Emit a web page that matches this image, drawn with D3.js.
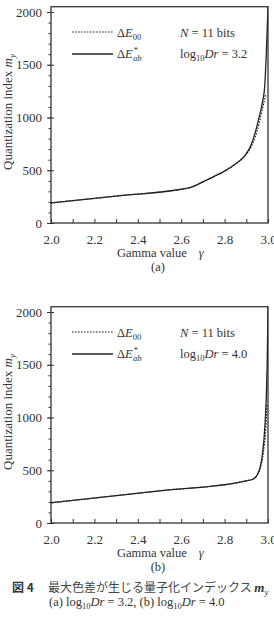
<!DOCTYPE html>
<html>
<head>
<meta charset="utf-8">
<script src="https://cdn.jsdelivr.net/npm/d3@7"></script>
<style>
  body { margin: 0; background: #fff; }
  svg { display: block; }
  text { font-family: "Liberation Serif", "DejaVu Serif", serif; fill: #333; }
  .axis path, .axis line { stroke: #333; }
</style>
</head>
<body>
<div id="chart"></div>
<script>
// values
var gammaTicks = [2.0, 2.1, 2.2, 2.3, 2.4, 2.5, 2.6, 2.7, 2.8, 2.9, 3.0];
var yMajor = [0, 500, 1000, 1500, 2000];

// (a) log10Dr = 3.2
var gammaA_ab = [2.0, 2.3, 2.6, 2.64, 2.7, 2.75, 2.8, 2.85, 2.89, 2.92, 2.94, 2.96, 2.975, 2.985, 2.993, 3.0];
var valueA_ab = [190, 255, 320, 335, 390, 440, 492, 560, 630, 730, 850, 1010, 1150, 1300, 1650, 2050];
var gammaA_00 = [2.0, 2.3, 2.6, 2.64, 2.7, 2.75, 2.8, 2.85, 2.89, 2.92, 2.94, 2.96, 2.975, 2.99];
var valueA_00 = [190, 255, 320, 335, 390, 440, 492, 560, 630, 710, 810, 950, 1090, 1220];

// (b) log10Dr = 4.0
var gammaB_ab = [2.0, 2.5, 2.9, 2.93, 2.945, 2.955, 2.965, 2.975, 2.982, 2.988, 2.993, 2.997, 3.0];
var valueB_ab = [192, 305, 400, 415, 440, 475, 540, 660, 810, 1000, 1250, 1600, 2050];
var gammaB_00 = [2.0, 2.5, 2.9, 2.93, 2.945, 2.955, 2.965, 2.975, 2.983, 2.99, 2.995];
var valueB_00 = [192, 305, 400, 415, 440, 475, 525, 620, 740, 900, 1130];

var serif = "'Liberation Serif', 'DejaVu Serif', serif";
var width = 274, height = 624;
var svg = d3.select("#chart").append("svg")
  .attr("width", width)
  .attr("height", height)
  .attr("font-family", serif);

function zip(g, v) {
  return g.map(function(d, i) { return {g: d, v: v[i]}; });
}

function panel(oy, id, dr, label, ab, e00) {
  var x = d3.scaleLinear().domain([2, 3]).range([51, 268]);
  var y = d3.scaleLinear().domain([0, 2000]).range([oy + 223, oy + 12]);
  var g = svg.append("g");

  g.append("clipPath").attr("id", "clip" + id)
    .append("rect")
    .attr("x", x(2)).attr("y", y(2050))
    .attr("width", x(3) - x(2)).attr("height", y(0) - y(2050));

  // minor y ticks
  g.append("g").attr("class", "axis")
    .attr("transform", "translate(" + x(2) + ",0)")
    .call(d3.axisLeft(y).tickValues(d3.range(0, 2001, 100)).tickSize(2.5).tickFormat(""))
    .call(function(s) { s.select(".domain").remove(); });

  // major y ticks
  var ya = g.append("g").attr("class", "axis")
    .attr("transform", "translate(" + x(2) + ",0)")
    .call(d3.axisLeft(y).tickValues(yMajor).tickSizeInner(4).tickSizeOuter(0).tickPadding(5)
      .tickFormat(d3.format("d")));
  ya.attr("font-family", serif);
  ya.selectAll(".tick line").attr("x2", 3).attr("x1", -4);
  ya.selectAll("text").style("font-size", "13px").attr("fill", "#333");
  ya.select(".domain").remove();

  // x axis, ticks pointing inward
  var xa = g.append("g").attr("class", "axis")
    .attr("transform", "translate(0," + y(0) + ")")
    .call(d3.axisBottom(x).tickValues(gammaTicks).tickSizeInner(-4).tickSizeOuter(0).tickPadding(12)
      .tickFormat(function(d, i) { return i % 2 === 0 ? d3.format(".1f")(d) : ""; }));
  xa.attr("font-family", serif);
  xa.selectAll("text").style("font-size", "13px").attr("fill", "#333");
  xa.select(".domain").remove();

  // frame
  g.append("rect")
    .attr("x", x(2)).attr("y", y(2050))
    .attr("width", x(3) - x(2)).attr("height", y(0) - y(2050))
    .attr("fill", "none").attr("stroke", "#333").attr("stroke-width", 1.3);

  var line = d3.line()
    .x(function(d) { return x(d.g); })
    .y(function(d) { return y(d.v); })
    .curve(d3.curveMonotoneX);

  g.append("path").datum(e00)
    .attr("clip-path", "url(#clip" + id + ")")
    .attr("d", line).attr("fill", "none")
    .attr("stroke", "#222").attr("stroke-width", 1.2).attr("stroke-dasharray", "1.6,1.4");
  g.append("path").datum(ab)
    .attr("clip-path", "url(#clip" + id + ")")
    .attr("d", line).attr("fill", "none")
    .attr("stroke", "#222").attr("stroke-width", 1.3);

  // legend
  g.append("line").attr("x1", 72).attr("x2", 113).attr("y1", oy + 32).attr("y2", oy + 32)
    .attr("stroke", "#222").attr("stroke-width", 1.2).attr("stroke-dasharray", "1.6,1.4");
  g.append("line").attr("x1", 72).attr("x2", 113).attr("y1", oy + 54).attr("y2", oy + 54)
    .attr("stroke", "#222").attr("stroke-width", 1.3);

  var t1 = g.append("text").attr("x", 117).attr("y", oy + 37).style("font-size", "12.5px");
  t1.append("tspan").text("Δ");
  t1.append("tspan").attr("font-style", "italic").text("E");
  t1.append("tspan").attr("dy", 3).style("font-size", "8.5px").text("00");

  var t2 = g.append("text").attr("x", 117).attr("y", oy + 58).style("font-size", "12.5px");
  t2.append("tspan").text("Δ");
  t2.append("tspan").attr("font-style", "italic").text("E");
  t2.append("tspan").attr("dy", -5).attr("dx", 1).style("font-size", "8.5px").text("*");
  t2.append("tspan").attr("dy", 8).attr("dx", -5).attr("font-style", "italic").style("font-size", "8.5px").text("ab");

  var t3 = g.append("text").attr("x", 180).attr("y", oy + 37).style("font-size", "12.5px");
  t3.append("tspan").attr("font-style", "italic").text("N");
  t3.append("tspan").text(" = 11 bits");

  var t4 = g.append("text").attr("x", 180).attr("y", oy + 58).style("font-size", "12.5px");
  t4.append("tspan").text("log");
  t4.append("tspan").attr("dy", 3).style("font-size", "8.5px").text("10");
  t4.append("tspan").attr("dy", -3).attr("font-style", "italic").text("Dr");
  t4.append("tspan").text(" = " + dr);

  // axis titles
  var yt = g.append("text")
    .attr("transform", "translate(12," + (oy + 112) + ") rotate(-90)")
    .attr("text-anchor", "middle").style("font-size", "13px");
  yt.append("tspan").text("Quantization index ");
  yt.append("tspan").attr("font-style", "italic").text("m");
  yt.append("tspan").attr("dy", 3).attr("font-style", "italic").style("font-size", "9px").text("y");

  var xt = g.append("text").attr("x", 117).attr("y", oy + 257).style("font-size", "12.5px");
  xt.append("tspan").text("Gamma value");
  xt.append("tspan").attr("dx", 12).attr("font-style", "italic").text("γ");

  g.append("text").attr("x", 158).attr("y", oy + 271)
    .attr("text-anchor", "middle").style("font-size", "12.5px").text(label);
}

panel(0, "a", "3.2", "(a)", zip(gammaA_ab, valueA_ab), zip(gammaA_00, valueA_00));
panel(300, "b", "4.0", "(b)", zip(gammaB_ab, valueB_ab), zip(gammaB_00, valueB_00));

// caption
var c1 = svg.append("text").attr("x", 12).attr("y", 592).style("font-size", "12px");
c1.append("tspan").attr("font-family", "Noto Sans CJK JP").attr("font-weight", "bold").text("図 4");
c1.append("tspan").attr("x", 48).attr("font-family", "Noto Sans CJK JP").attr("fill", "#444")
  .text("最大色差が生じる量子化インデックス ");
c1.append("tspan").attr("font-style", "italic").attr("font-weight", "bold").style("font-size", "13px").text("m");
c1.append("tspan").attr("dy", 3).attr("font-style", "italic").style("font-size", "9px").text("y");

var c2 = svg.append("text").attr("x", 49).attr("y", 606).style("font-size", "12.5px");
c2.append("tspan").text("(a) log");
c2.append("tspan").attr("dy", 3).style("font-size", "8.5px").text("10");
c2.append("tspan").attr("dy", -3).attr("font-style", "italic").text("Dr");
c2.append("tspan").text(" = 3.2, (b) log");
c2.append("tspan").attr("dy", 3).style("font-size", "8.5px").text("10");
c2.append("tspan").attr("dy", -3).attr("font-style", "italic").text("Dr");
c2.append("tspan").text(" = 4.0");
</script>
</body>
</html>
